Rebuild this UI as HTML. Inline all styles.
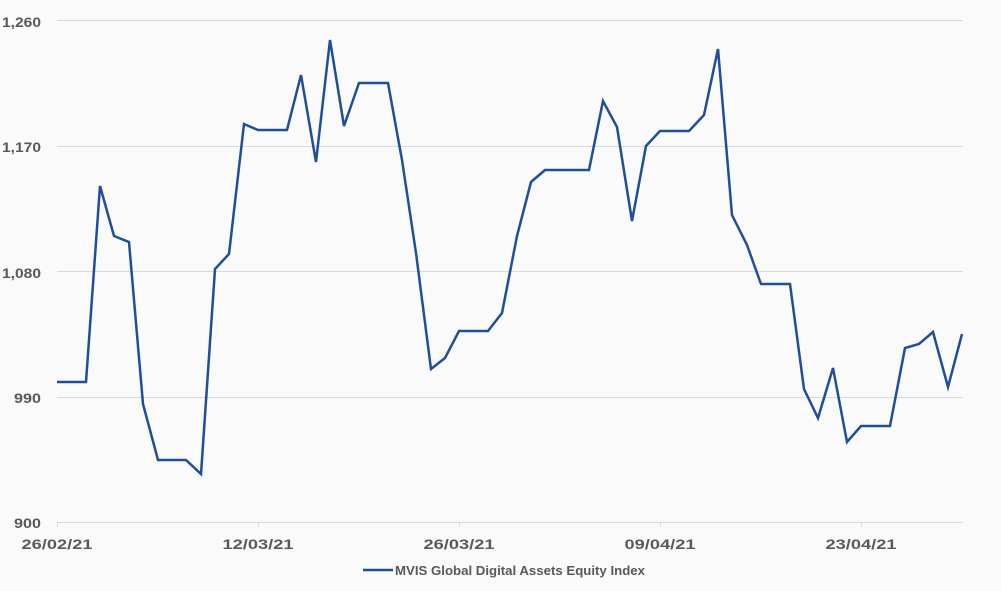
<!DOCTYPE html>
<html><head><meta charset="utf-8"><style>
body{margin:0;background:#fafafa;}
svg text{font-family:"Liberation Sans",sans-serif;fill:#595959;font-weight:bold;}
</style></head><body>
<svg width="1001" height="586" viewBox="0 0 1001 586" xmlns="http://www.w3.org/2000/svg">
<rect width="1001" height="586" fill="#fafafa"/>
<g stroke="#d9d9d9" stroke-width="1">
<line x1="57" y1="20.5" x2="963" y2="20.5"/>
<line x1="57" y1="146.5" x2="963" y2="146.5"/>
<line x1="57" y1="271.5" x2="963" y2="271.5"/>
<line x1="57" y1="397.5" x2="963" y2="397.5"/>
<line x1="57" y1="522.5" x2="963" y2="522.5"/>
<line x1="57.5" y1="522" x2="57.5" y2="527"/>
<line x1="258.5" y1="522" x2="258.5" y2="527"/>
<line x1="459.5" y1="522" x2="459.5" y2="527"/>
<line x1="660.5" y1="522" x2="660.5" y2="527"/>
<line x1="861.5" y1="522" x2="861.5" y2="527"/>
</g>
<g font-size="14" text-anchor="end">
<text x="41" y="27" textLength="39" lengthAdjust="spacingAndGlyphs">1,260</text>
<text x="41" y="152" textLength="39" lengthAdjust="spacingAndGlyphs">1,170</text>
<text x="41" y="278" textLength="39" lengthAdjust="spacingAndGlyphs">1,080</text>
<text x="41" y="403" textLength="27" lengthAdjust="spacingAndGlyphs">990</text>
<text x="41" y="528" textLength="27" lengthAdjust="spacingAndGlyphs">900</text>
</g>
<g font-size="14" text-anchor="middle">
<text x="57" y="549" textLength="71" lengthAdjust="spacingAndGlyphs">26/02/21</text>
<text x="258" y="549" textLength="71" lengthAdjust="spacingAndGlyphs">12/03/21</text>
<text x="459" y="549" textLength="71" lengthAdjust="spacingAndGlyphs">26/03/21</text>
<text x="660" y="549" textLength="71" lengthAdjust="spacingAndGlyphs">09/04/21</text>
<text x="861" y="549" textLength="71" lengthAdjust="spacingAndGlyphs">23/04/21</text>
</g>
<polyline fill="none" stroke="#1f4e9a" stroke-width="2.5" stroke-linejoin="miter" points="57,382 71,382 86,382 100,186 114,236 129,242 143,404 158,460 172,460 186,460 201,474 215,269 229,254 244,124 258,130 272,130 287,130 301,75 316,162 330,40 344,126 359,83 373,83 388,83 402,160 416,253 431,369 445,358 459,331 474,331 488,331 502,313 517,236 531,182 545,170 560,170 574,170 589,170 603,101 617,127 632,221 646,146 660,131 675,131 689,131 704,115 718,49 732,215 747,245 761,284 775,284 790,284 804,389 818,418 833,368 847,442 861,426 876,426 890,426 905,348 919,344 933,332 948,387 962,334"/>
<line x1="363" y1="570" x2="393" y2="570" stroke="#1f4e9a" stroke-width="2.5"/>
<text x="395" y="575" font-size="13" textLength="250" lengthAdjust="spacingAndGlyphs">MVIS Global Digital Assets Equity Index</text>
</svg>
</body></html>
